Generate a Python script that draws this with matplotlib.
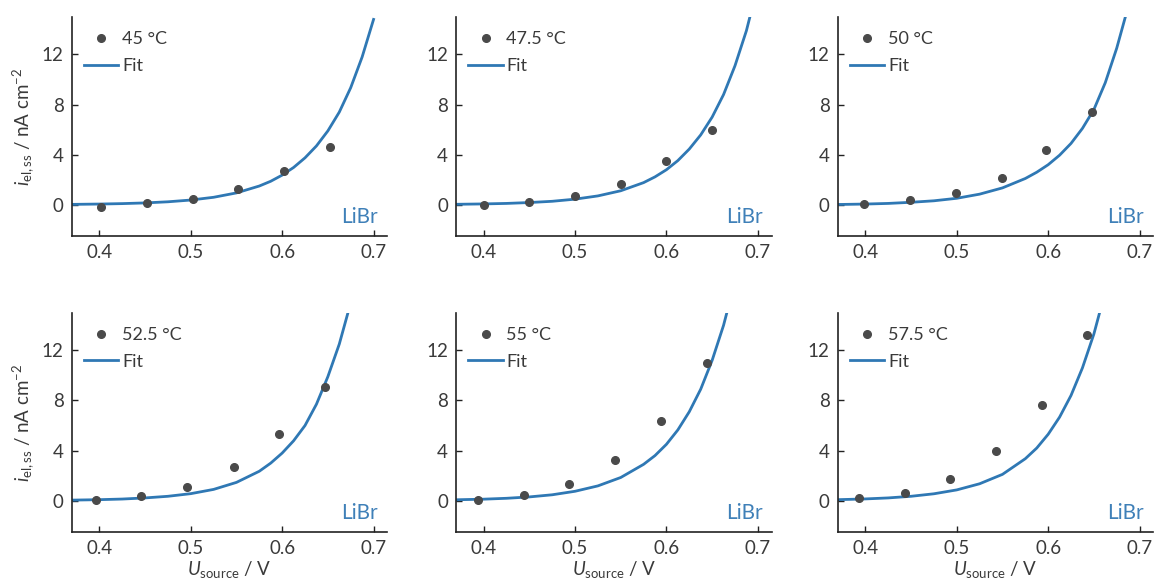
import matplotlib
matplotlib.use("Agg")
import matplotlib.pyplot as plt

plt.rcParams["font.family"] = ["Lato", "DejaVu Sans"]
plt.rcParams["mathtext.fontset"] = "custom"
plt.rcParams["mathtext.rm"] = "Lato"
plt.rcParams["mathtext.it"] = "Lato:italic"

# Measured steady-state current densities (nA cm^-2) for each temperature
temperatures = ["45 °C", "47.5 °C", "50 °C", "52.5 °C", "55 °C", "57.5 °C"]

u_45 = [0.402, 0.452, 0.502, 0.552, 0.602, 0.652]
i_45 = [-0.19, 0.14, 0.49, 1.30, 2.70, 4.60]

u_475 = [0.400, 0.450, 0.500, 0.550, 0.600, 0.650]
i_475 = [0.00, 0.20, 0.70, 1.70, 3.50, 6.00]

u_50 = [0.399, 0.449, 0.499, 0.549, 0.598, 0.648]
i_50 = [0.03, 0.35, 0.92, 2.16, 4.35, 7.38]

u_525 = [0.396, 0.446, 0.496, 0.547, 0.597, 0.647]
i_525 = [0.05, 0.40, 1.10, 2.70, 5.30, 9.05]

u_55 = [0.394, 0.444, 0.493, 0.544, 0.594, 0.644]
i_55 = [0.08, 0.46, 1.35, 3.24, 6.38, 10.97]

u_575 = [0.393, 0.443, 0.493, 0.543, 0.593, 0.642]
i_575 = [0.19, 0.62, 1.70, 3.97, 7.65, 13.20]

# Fitted curves sampled on a common voltage grid
u_fit = [0.37, 0.375, 0.40, 0.425, 0.45, 0.475, 0.50, 0.525, 0.55,
         0.575, 0.5875, 0.60, 0.6125, 0.625, 0.6375, 0.65, 0.6625,
         0.675, 0.6875, 0.70]
fit_45 = [0.035, 0.038, 0.06, 0.095, 0.15, 0.24, 0.38, 0.60, 0.95,
          1.50, 1.88, 2.37, 2.98, 3.75, 4.70, 5.90, 7.40, 9.35, 11.8, 14.8]
fit_475 = [0.04, 0.045, 0.07, 0.11, 0.18, 0.28, 0.45, 0.71, 1.12,
           1.77, 2.23, 2.80, 3.53, 4.45, 5.58, 7.00, 8.80, 11.1, 13.9, 17.5]
fit_50 = [0.028, 0.03, 0.06, 0.11, 0.20, 0.32, 0.52, 0.85, 1.35,
          2.10, 2.60, 3.20, 3.96, 4.90, 6.10, 7.60, 9.75, 12.5, 15.8, 20.0]
fit_525 = [0.045, 0.05, 0.08, 0.13, 0.22, 0.35, 0.56, 0.90, 1.46,
           2.35, 3.00, 3.80, 4.78, 6.00, 7.70, 9.90, 12.5, 15.8, 19.9, 25.0]
fit_55 = [0.07, 0.08, 0.12, 0.19, 0.30, 0.47, 0.75, 1.18, 1.85,
          2.90, 3.60, 4.50, 5.65, 7.10, 8.90, 11.2, 14.0, 17.5, 21.7, 27.0]
fit_575 = [0.08, 0.09, 0.14, 0.22, 0.35, 0.55, 0.86, 1.35, 2.10,
           3.35, 4.20, 5.30, 6.67, 8.40, 10.6, 13.3, 16.7, 21.0, 26.4, 33.0]

meas_u = [u_45, u_475, u_50, u_525, u_55, u_575]
meas_i = [i_45, i_475, i_50, i_525, i_55, i_575]
fits = [fit_45, fit_475, fit_50, fit_525, fit_55, fit_575]

x_ticks = [0.4, 0.5, 0.6, 0.7]
y_ticks = [0, 4, 8, 12]

text_color = "#3a3a3a"
marker_color = "#4a4a4a"
line_color = "#2f78b4"
label_color = "#3f80b8"

fig = plt.figure(figsize=(11.55, 5.83), dpi=100)

lefts = [0.0623, 0.395, 0.7255]
bottoms = [0.595, 0.0875]
width, height = 0.273, 0.376

for k in range(6):
    row, col = divmod(k, 3)
    ax = fig.add_axes([lefts[col], bottoms[row], width, height])
    ax.plot(u_fit, fits[k], color=line_color, lw=2.0, label="Fit", zorder=2)
    ax.plot(meas_u[k], meas_i[k], "o", color=marker_color, ms=5.5,
            label=temperatures[k], zorder=3)

    ax.set_xlim(0.37, 0.715)
    ax.set_ylim(-2.5, 15)
    ax.set_xticks(x_ticks)
    ax.set_xticklabels([f"{t:.1f}" for t in x_ticks])
    ax.set_yticks(y_ticks)
    ax.spines["top"].set_visible(False)
    ax.spines["right"].set_visible(False)
    for s in ("left", "bottom"):
        ax.spines[s].set_linewidth(1.2)
        ax.spines[s].set_color("#222222")
    ax.tick_params(direction="in", length=4, width=1.0, colors="#222222",
                   labelsize=13.5, labelcolor=text_color, pad=6)

    handles, labels = ax.get_legend_handles_labels()
    leg = ax.legend(handles[::-1], labels[::-1], loc="upper left",
                    bbox_to_anchor=(0.01, 0.975), frameon=False,
                    fontsize=13, handlelength=1.9, handletextpad=0.2,
                    labelspacing=0.58, borderaxespad=0.2, borderpad=0.3)
    for t in leg.get_texts():
        t.set_color(text_color)

    ax.text(0.971, 0.085, "LiBr", transform=ax.transAxes, ha="right",
            va="center", fontsize=15, color=label_color)

    if col == 0:
        ax.set_ylabel(r"$i_{\mathrm{el,ss}}$ / nA cm$^{-2}$", fontsize=13.5,
                      color=text_color, labelpad=4)
    if row == 1:
        ax.set_xlabel(r"$U_{\mathrm{source}}$ / V", fontsize=13.5,
                      color=text_color, labelpad=1)

fig.savefig("out.png", dpi=100)
